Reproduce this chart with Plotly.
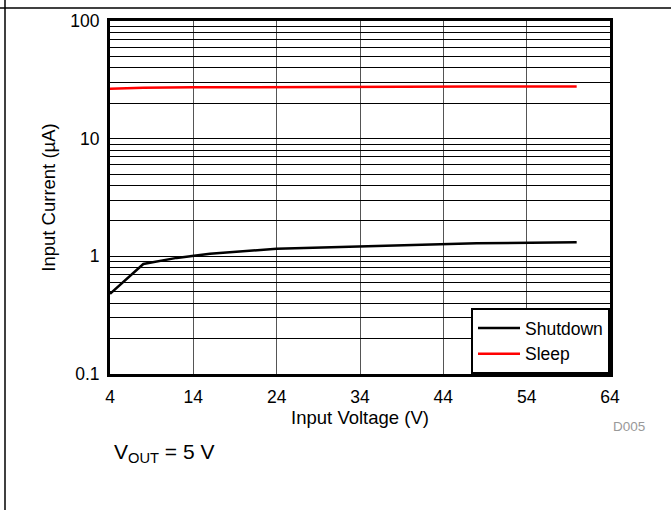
import plotly.graph_objects as go

# Input current vs input voltage, VOUT = 5 V
shutdown_vin = [4, 8, 12, 16, 24, 36, 48, 60]
shutdown_ua = [0.48, 0.86, 0.97, 1.05, 1.16, 1.23, 1.29, 1.32]

sleep_vin = [4, 8, 14, 24, 36, 48, 60]
sleep_ua = [26.5, 27.1, 27.3, 27.5, 27.6, 27.7, 27.8]

x_ticks = [4, 14, 24, 34, 44, 54, 64]
y_decades = [0.1, 1, 10, 100]
y_labels = ["0.1", "1", "10", "100"]

# grid lines at every 1..9 step within each decade, labels only on decades
y_grid = []
for d in y_decades[:-1]:
    for k in range(1, 10):
        y_grid.append(round(d * k, 6))
y_grid.append(y_decades[-1])
y_text = [y_labels[y_decades.index(v)] if v in y_decades else "" for v in y_grid]

FONT = "Liberation Sans, Arial, sans-serif"

fig = go.Figure()
fig.add_trace(go.Scatter(x=shutdown_vin, y=shutdown_ua, mode="lines", name="Shutdown",
                         line=dict(color="black", width=2.5)))
fig.add_trace(go.Scatter(x=sleep_vin, y=sleep_ua, mode="lines", name="Sleep",
                         line=dict(color="#ff0000", width=2.5)))

fig.update_layout(
    width=671, height=510,
    margin=dict(l=110, r=61, t=21, b=136),
    paper_bgcolor="white", plot_bgcolor="white",
    font=dict(family=FONT, size=18, color="black"),
    showlegend=True,
    legend=dict(x=1, y=0, xanchor="right", yanchor="bottom",
                bgcolor="white", bordercolor="black", borderwidth=2,
                font=dict(family=FONT, size=17.5, color="black"),
                tracegroupgap=0, itemwidth=42),
    xaxis=dict(range=[4, 64], tickmode="array", tickvals=x_ticks,
               ticktext=[str(v) for v in x_ticks],
               tickfont=dict(family=FONT, size=17.5),
               ticklabelstandoff=5,
               showgrid=True, gridcolor="#555555", gridwidth=1,
               showline=True, linecolor="black", linewidth=3, mirror=True,
               ticks="", zeroline=False,
               title=dict(text="Input Voltage (V)", standoff=0,
                          font=dict(family=FONT, size=18.5))),
    yaxis=dict(type="log", range=[-1, 2], tickmode="array",
               tickvals=y_grid, ticktext=y_text,
               tickfont=dict(family=FONT, size=17.5),
               ticklabelstandoff=4,
               showgrid=True, gridcolor="black", gridwidth=1,
               showline=True, linecolor="black", linewidth=3, mirror=True,
               ticks="", zeroline=False,
               title=dict(text="Input Current (\u00b5A)", standoff=10,
                          font=dict(family=FONT, size=18.5))),
)

# frame lines of the page
fig.add_shape(type="line", xref="paper", yref="paper", x0=-0.23, x1=1.13,
              y0=1.037, y1=1.037, line=dict(color="black", width=1.5))
fig.add_shape(type="line", xref="paper", yref="paper", x0=-0.21, x1=-0.21,
              y0=-0.39, y1=1.07, line=dict(color="black", width=1.5))

fig.add_annotation(text="D005", xref="paper", yref="paper", x=1.074, y=-0.15,
                   xanchor="right", yanchor="middle", showarrow=False,
                   font=dict(family=FONT, size=13.5, color="#999999"))
fig.add_annotation(text="V<sub>OUT</sub> = 5 V", xref="paper", yref="paper",
                   x=0.003, y=-0.225, xanchor="left", yanchor="middle",
                   showarrow=False, font=dict(family=FONT, size=21, color="black"))

fig.write_html("out.html")
